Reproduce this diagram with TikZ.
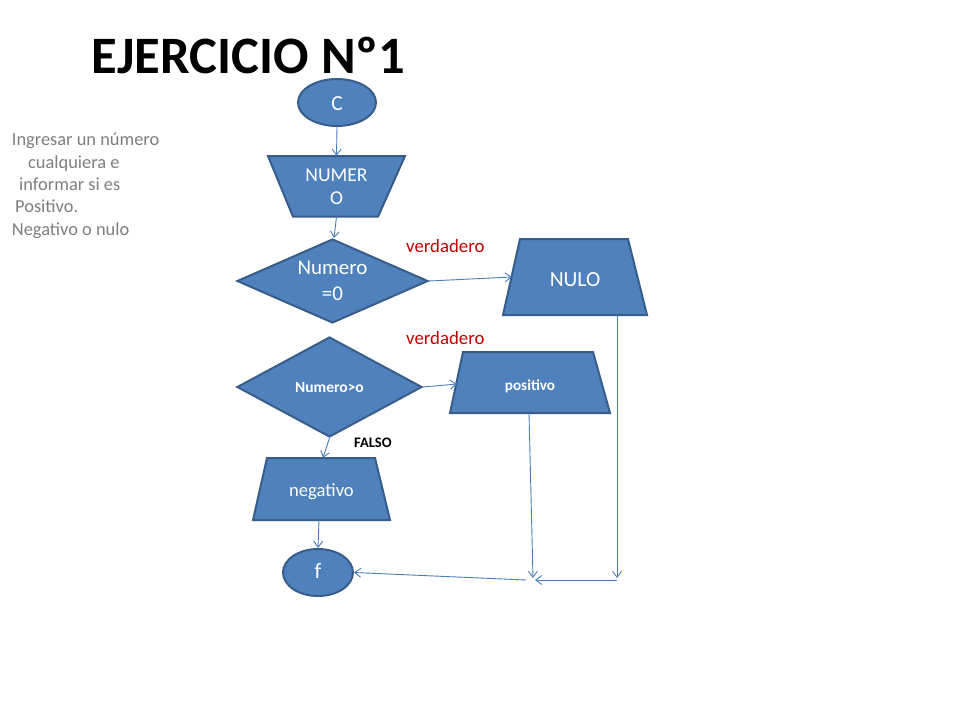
\documentclass[tikz,border=0pt]{standalone}
\usepackage{fontspec}
\setmainfont{Carlito}
\usetikzlibrary{shapes.geometric,arrows.meta,calc}
\definecolor{bfill}{HTML}{4F81BD}
\definecolor{bline}{HTML}{385D8A}
\definecolor{conn}{HTML}{4A7EBB}
\definecolor{vred}{HTML}{C00000}
\definecolor{ngray}{HTML}{7F7F7F}
\newcommand{\basedown}[2]{\raisebox{-#1}[0pt][0pt]{#2}}
\begin{document}
\begin{tikzpicture}[x=1pt,y=-1pt,
  term/.style={ellipse, fill=bfill, draw=bline, line width=2pt, inner sep=0pt, text=white},
  decision/.style={diamond, fill=bfill, draw=bline, line width=2pt, inner sep=0pt, text=white, align=center},
  trap/.style={fill=bfill, draw=bline, line width=2pt, line join=miter},
  shapebox/.style={rectangle, draw=none, inner sep=0pt, text=white, align=center},
  arr/.style={draw=conn, line width=0.9pt, -{Straight Barb[length=6pt,width=9pt]}},
  redlbl/.style={anchor=base west, text=vred, font=\fontsize{18.8}{22}\selectfont, inner sep=0pt},
  graylbl/.style={anchor=base west, text=ngray, font=\fontsize{18.4}{22}\selectfont, inner sep=0pt}
]
\useasboundingbox (0,0) rectangle (960,720);
\fill[white] (0,0) rectangle (960,720);

% title
\node[anchor=base west, inner sep=0pt, font=\fontsize{52.6}{60}\selectfont\bfseries] (title) at (91.7,73.3) {EJERCICIO Nº1};

% left description
\node[graylbl] (t1) at (11.7,145) {Ingresar un número};
\node[graylbl] (t2) at (28,168) {cualquiera e};
\node[graylbl] (t3) at (19,190) {informar si es};
\node[graylbl] (t4) at (15,212) {Positivo.};
\node[graylbl] (t5) at (11.7,235) {Negativo o nulo};

% start
\node[term, minimum width=78pt, minimum height=47pt, font=\fontsize{21.5}{24}\selectfont] (start) at (337,102.5) {\basedown{8pt}{C}};

% NUMERO (inverted trapezoid)
\filldraw[trap] (268,156) -- (405,156) -- (378,216.7) -- (293,216.7) -- cycle;
\node[shapebox, minimum width=137pt, minimum height=60.7pt, font=\fontsize{19.6}{23}\selectfont] (numero) at (336.5,186.3) {NUMER\\O};

% decision 1
\node[decision, aspect=2.3, minimum width=191pt, minimum height=84pt, font=\fontsize{21}{25.5}\selectfont] (d1) at (332.5,281) {Numero\\=0};

% NULO
\filldraw[trap] (520,239) -- (628,239) -- (647,315) -- (503,315) -- cycle;
\node[shapebox, minimum width=144pt, minimum height=76pt, font=\fontsize{21.5}{24}\selectfont] (nulo) at (575,277) {\basedown{9.7pt}{NULO}};

% decision 2
\node[decision, aspect=1.85, minimum width=185pt, minimum height=100pt, font=\fontsize{15.5}{18}\selectfont\bfseries] (d2) at (329.5,387) {\basedown{5.3pt}{Numero>o}};

% positivo
\filldraw[trap] (463,352) -- (593,352) -- (610,413) -- (450,413) -- cycle;
\node[shapebox, minimum width=160pt, minimum height=61pt, font=\fontsize{15.2}{18}\selectfont\bfseries] (pos) at (530,382.5) {\basedown{7.5pt}{positivo}};

% negativo
\filldraw[trap] (267,458) -- (375,458) -- (390,520) -- (253,520) -- cycle;
\node[shapebox, minimum width=137pt, minimum height=62pt, font=\fontsize{18.6}{22}\selectfont] (neg) at (321.5,489) {\basedown{7.7pt}{negativo}};

% end
\node[term, minimum width=70pt, minimum height=47pt, font=\fontsize{22}{24}\selectfont] (fin) at (318,572.5) {\basedown{6pt}{f}};

% labels
\node[redlbl] (v1) at (406,252) {verdadero};
\node[redlbl] (v2) at (406,344) {verdadero};
\node[anchor=base west, inner sep=0pt, font=\fontsize{14.5}{16}\selectfont\bfseries] (falso) at (354,447) {FALSO};

% free ends
\coordinate (posend) at (533,578);
\coordinate (nuloend) at (617,578);
\coordinate (hstart) at (617,580);
\coordinate (hend) at (535,580);
\coordinate (fstart) at (526,580);

% connectors
\draw[arr] (start.south) -- (numero.north);
\draw[arr] (numero.south) -- ([xshift=1.5pt]d1.north);
\draw[arr] (d1.east) -- ([xshift=9pt]nulo.west);
\draw[arr] (d2.east) -- ([xshift=7pt,yshift=-1.5pt]pos.west);
\draw[arr] (d2.south) -- ([xshift=1.5pt]neg.north);
\draw[arr] ([xshift=-2.5pt]neg.south) -- (fin.north);
\draw[arr] ([xshift=-1pt]pos.south) -- (posend);
\draw[arr] ([xshift=42pt]nulo.south) -- (nuloend);
\draw[arr] (hstart) -- (hend);
\draw[arr] (fstart) -- (fin.east);
\end{tikzpicture}
\end{document}
